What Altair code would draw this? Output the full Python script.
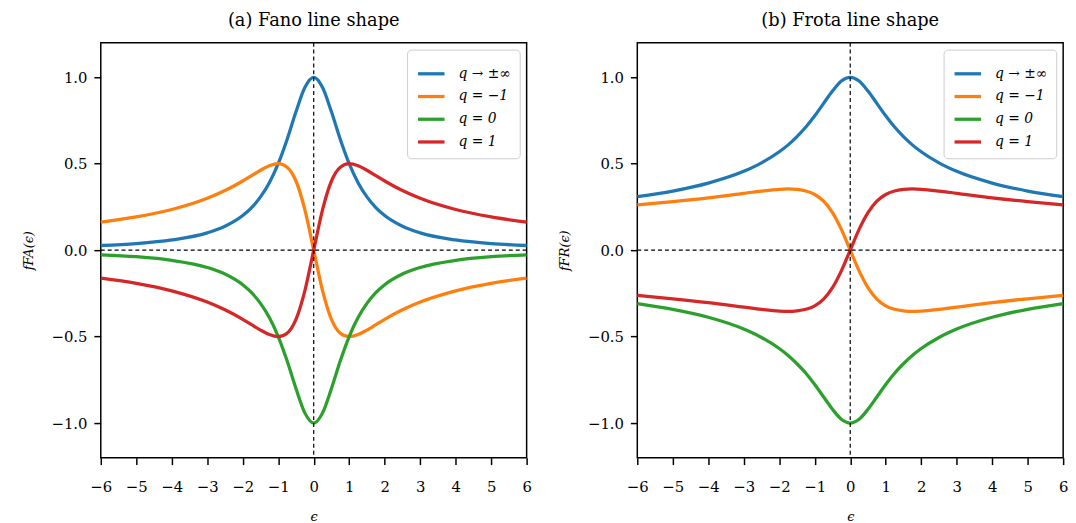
import altair as alt
import pandas as pd

# energy grid (epsilon)
x_vals = [-6, -5, -4, -3, -2.5, -2, -1.75, -1.5, -1.25, -1, -0.75, -0.5, -0.25, 0,
          0.25, 0.5, 0.75, 1, 1.25, 1.5, 1.75, 2, 2.5, 3, 4, 5, 6]

# (a) Fano line shape
fano_inf = [0.027, 0.038, 0.059, 0.100, 0.138, 0.200, 0.246, 0.308, 0.390, 0.500, 0.640, 0.800, 0.941, 1.000,
            0.941, 0.800, 0.640, 0.500, 0.390, 0.308, 0.246, 0.200, 0.138, 0.100, 0.059, 0.038, 0.027]
fano_m1 = [0.162, 0.192, 0.235, 0.300, 0.345, 0.400, 0.431, 0.462, 0.488, 0.500, 0.480, 0.400, 0.235, 0.000,
           -0.235, -0.400, -0.480, -0.500, -0.488, -0.462, -0.431, -0.400, -0.345, -0.300, -0.235, -0.192, -0.162]
fano_0 = [-0.027, -0.038, -0.059, -0.100, -0.138, -0.200, -0.246, -0.308, -0.390, -0.500, -0.640, -0.800, -0.941, -1.000,
          -0.941, -0.800, -0.640, -0.500, -0.390, -0.308, -0.246, -0.200, -0.138, -0.100, -0.059, -0.038, -0.027]
fano_p1 = [-0.162, -0.192, -0.235, -0.300, -0.345, -0.400, -0.431, -0.462, -0.488, -0.500, -0.480, -0.400, -0.235, 0.000,
           0.235, 0.400, 0.480, 0.500, 0.488, 0.462, 0.431, 0.400, 0.345, 0.300, 0.235, 0.192, 0.162]

# (b) Frota line shape
frota_inf = [0.309, 0.342, 0.388, 0.456, 0.505, 0.569, 0.609, 0.657, 0.712, 0.777, 0.849, 0.920, 0.978, 1.000,
             0.978, 0.920, 0.849, 0.777, 0.712, 0.657, 0.609, 0.569, 0.505, 0.456, 0.388, 0.342, 0.309]
frota_m1 = [0.262, 0.281, 0.303, 0.329, 0.342, 0.352, 0.354, 0.351, 0.342, 0.322, 0.283, 0.217, 0.120, 0.000,
            -0.120, -0.217, -0.283, -0.322, -0.342, -0.351, -0.354, -0.352, -0.342, -0.329, -0.303, -0.281, -0.262]
frota_0 = [-0.309, -0.342, -0.388, -0.456, -0.505, -0.569, -0.609, -0.657, -0.712, -0.777, -0.849, -0.920, -0.978, -1.000,
           -0.978, -0.920, -0.849, -0.777, -0.712, -0.657, -0.609, -0.569, -0.505, -0.456, -0.388, -0.342, -0.309]
frota_p1 = [-0.262, -0.281, -0.303, -0.329, -0.342, -0.352, -0.354, -0.351, -0.342, -0.322, -0.283, -0.217, -0.120, 0.000,
            0.120, 0.217, 0.283, 0.322, 0.342, 0.351, 0.354, 0.352, 0.342, 0.329, 0.303, 0.281, 0.262]

labels = ["q → ±∞", "q = −1", "q = 0", "q = 1"]
colors = ["#1f77b4", "#ff7f0e", "#2ca02c", "#d62728"]
x_ticks = [-6, -5, -4, -3, -2, -1, 0, 1, 2, 3, 4, 5, 6]
y_ticks = [-1.0, -0.5, 0.0, 0.5, 1.0]

SERIF = "DejaVu Serif"


def panel(series, title, ytitle):
    rows = []
    for lab, vals in zip(labels, series):
        for i, (xv, yv) in enumerate(zip(x_vals, vals)):
            rows.append({"eps": xv, "f": yv, "q": lab, "order": i})
    df = pd.DataFrame(rows)

    xaxis = alt.Axis(values=x_ticks, format="d", title="ϵ", labelOverlap=False,
                     tickCount=13, labelFlush=False)
    yaxis = alt.Axis(values=y_ticks, format=".1f", title=ytitle, labelOverlap=False,
                     labelFlush=False)
    xscale = alt.Scale(domain=[-6, 6], nice=False, zero=False)
    yscale = alt.Scale(domain=[-1.2, 1.2], nice=False, zero=False)

    lines = alt.Chart(df).mark_line(strokeWidth=3.3, interpolate="monotone").encode(
        x=alt.X("eps:Q", scale=xscale, axis=xaxis),
        y=alt.Y("f:Q", scale=yscale, axis=yaxis),
        color=alt.Color("q:N", scale=alt.Scale(domain=labels, range=colors),
                        legend=alt.Legend(orient="top-right", offset=7, title=None,
                                          strokeColor="#cccccc", fillColor="white",
                                          cornerRadius=4, padding=9,
                                          symbolType="stroke", symbolStrokeWidth=3.3,
                                          symbolSize=720, labelFont=SERIF, labelOffset=12,
                                          labelFontStyle="italic", labelFontSize=14,
                                          labelColor="black", rowPadding=0)),
        order="order:Q",
    )
    vrule = alt.Chart(pd.DataFrame({"eps": [0]})).mark_rule(
        color="black", strokeWidth=1.2, strokeDash=[4, 3]).encode(
        x=alt.X("eps:Q", scale=xscale, axis=xaxis))
    hrule = alt.Chart(pd.DataFrame({"f": [0]})).mark_rule(
        color="black", strokeWidth=1.2, strokeDash=[4, 3]).encode(
        y=alt.Y("f:Q", scale=yscale, axis=yaxis))
    return alt.layer(lines, vrule, hrule).properties(
        width=431, height=420,
        title=alt.TitleParams(title, font=SERIF, fontSize=18, fontWeight="normal",
                              color="black", offset=12, anchor="middle"))


pa = panel([fano_inf, fano_m1, fano_0, fano_p1], "(a) Fano line shape", "fFA(ϵ)")
pb = panel([frota_inf, frota_m1, frota_0, frota_p1], "(b) Frota line shape", "fFR(ϵ)")

chart = alt.hconcat(pa, pb, spacing=23).resolve_scale(color="independent").configure_view(
    stroke="black", strokeWidth=1.5
).configure_axis(
    domain=False, grid=False, ticks=True, tickColor="black", tickWidth=1.5, tickSize=7,
    labelFont=SERIF, labelFontSize=15, labelColor="black", labelPadding=7,
    titleFont=SERIF, titleFontSize=13, titleFontStyle="italic", titleFontWeight="normal",
    titleColor="black"
).configure_axisX(titlePadding=17, labelPadding=15).configure_axisY(titlePadding=16).properties(
    padding={"left": 21, "top": 8, "right": 5, "bottom": 0}
)

chart.save("out.html", embed_options={"renderer": "svg", "actions": False})
